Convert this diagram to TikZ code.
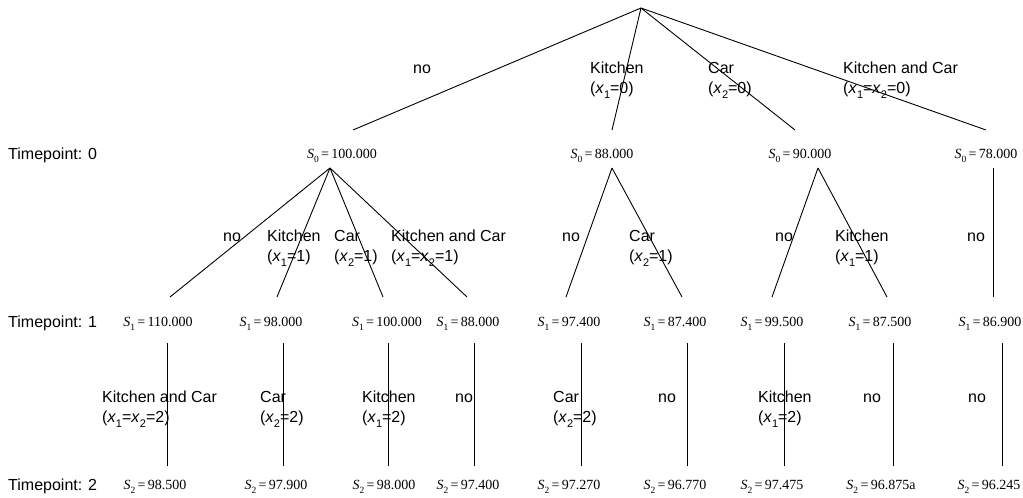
\documentclass[tikz,border=0pt]{standalone}
\usepackage{fontspec}
\setmainfont{Liberation Sans}
\newfontfamily\serifnum{Liberation Serif}
\newcommand{\SVal}[2]{\textit{S}\raisebox{-0.25em}{\fontsize{9.5}{9.5}\selectfont #1}\,=\,#2}
\newcommand{\xsub}[1]{\textit{x}\raisebox{-0.3em}{\fontsize{11}{11}\selectfont #1}}
\begin{document}
\begin{tikzpicture}[x=1pt,y=-1pt,
  edge/.style={line width=0.9pt},
  lab/.style={anchor=base west, inner sep=0pt, align=left, font=\fontsize{16}{20.5}\selectfont},
  val/.style={anchor=base, inner sep=0pt, font=\fontsize{14}{16}\serifnum},
  tp/.style={anchor=base west, inner sep=0pt, font=\fontsize{16}{20}\selectfont}]
\useasboundingbox (0,0) rectangle (1023,498);

% timepoints
\node[tp] (tp0) at (8,159.5) {Timepoint: 0};
\node[tp] (tp1) at (8,327.5) {Timepoint: 1};
\node[tp] (tp2) at (8,490.5) {Timepoint: 2};

% values level 0
\node[val] (v0a) at (342,158.5) {\SVal{0}{100.000}};
\node[val] (v0b) at (602,158.5) {\SVal{0}{88.000}};
\node[val] (v0c) at (800,158.5) {\SVal{0}{90.000}};
\node[val] (v0d) at (986,158.5) {\SVal{0}{78.000}};
% values level 1
\node[val] (v1a) at (158,326.5) {\SVal{1}{110.000}};
\node[val] (v1b) at (271,326.5) {\SVal{1}{98.000}};
\node[val] (v1c) at (387,326.5) {\SVal{1}{100.000}};
\node[val] (v1d) at (468,326.5) {\SVal{1}{88.000}};
\node[val] (v1e) at (569,326.5) {\SVal{1}{97.400}};
\node[val] (v1f) at (675,326.5) {\SVal{1}{87.400}};
\node[val] (v1g) at (772,326.5) {\SVal{1}{99.500}};
\node[val] (v1h) at (880,326.5) {\SVal{1}{87.500}};
\node[val] (v1i) at (990,326.5) {\SVal{1}{86.900}};
% values level 2
\node[val] (v2a) at (155,489.5) {\SVal{2}{98.500}};
\node[val] (v2b) at (276,489.5) {\SVal{2}{97.900}};
\node[val] (v2c) at (384,489.5) {\SVal{2}{98.000}};
\node[val] (v2d) at (468,489.5) {\SVal{2}{97.400}};
\node[val] (v2e) at (569,489.5) {\SVal{2}{97.270}};
\node[val] (v2f) at (675,489.5) {\SVal{2}{96.770}};
\node[val] (v2g) at (772,489.5) {\SVal{2}{97.475}};
\node[val] (v2h) at (881,489.5) {\SVal{2}{96.875a}};
\node[val] (v2i) at (989,489.5) {\SVal{2}{96.245}};

% connector end points
\coordinate (r) at (641,8);
\coordinate (e0a) at (353,130);
\coordinate (e0b) at (612,130);
\coordinate (e0c) at (795,130);
\coordinate (e0d) at (986,130);
\coordinate (t1a) at (330,168);
\coordinate (t1b) at (612,168);
\coordinate (t1c) at (818,168);
\coordinate (t1d) at (993,168);
\coordinate (u1) at (170,297);
\coordinate (u2) at (277,297);
\coordinate (u3) at (383,297);
\coordinate (u4) at (467,297);
\coordinate (u5) at (566,297);
\coordinate (u6) at (682,297);
\coordinate (u7) at (772,297);
\coordinate (u8) at (887,297);
\coordinate (u9) at (993,297);
\foreach \n/\x in {a/167,b/283,c/388,d/474,e/581,f/687,g/784,h/893,i/1002}{
  \coordinate (s\n) at (\x,343);
  \coordinate (f\n) at (\x,466);
}

% connectors
\draw[edge] (r) -- (e0a);
\draw[edge] (r) -- (e0b);
\draw[edge] (r) -- (e0c);
\draw[edge] (r) -- (e0d);
\draw[edge] (t1a) -- (u1);
\draw[edge] (t1a) -- (u2);
\draw[edge] (t1a) -- (u3);
\draw[edge] (t1a) -- (u4);
\draw[edge] (t1b) -- (u5);
\draw[edge] (t1b) -- (u6);
\draw[edge] (t1c) -- (u7);
\draw[edge] (t1c) -- (u8);
\draw[edge] (t1d) -- (u9);
\foreach \n in {a,b,c,d,e,f,g,h,i}{
  \draw[edge] (s\n) -- (f\n);
}

% labels level 0
\node[lab] (l0a) at (413,73) {no};
\node[lab] (l0b) at (590,93.5) {Kitchen\\(\xsub{1}=0)};
\node[lab] (l0c) at (708,93.5) {Car\\(\xsub{2}=0)};
\node[lab] (l0d) at (843,93.5) {Kitchen and Car\\(\xsub{1}=\xsub{2}=0)};
% labels level 1
\node[lab] (l1a) at (223,241) {no};
\node[lab] (l1b) at (267,261.5) {Kitchen\\(\xsub{1}=1)};
\node[lab] (l1c) at (334,261.5) {Car\\(\xsub{2}=1)};
\node[lab] (l1d) at (391,261.5) {Kitchen and Car\\(\xsub{1}=\xsub{2}=1)};
\node[lab] (l1e) at (562,241) {no};
\node[lab] (l1f) at (629,261.5) {Car\\(\xsub{2}=1)};
\node[lab] (l1g) at (775,241) {no};
\node[lab] (l1h) at (835,261.5) {Kitchen\\(\xsub{1}=1)};
\node[lab] (l1i) at (967,241) {no};
% labels level 2
\node[lab] (l2a) at (102,422.5) {Kitchen and Car\\(\xsub{1}=\xsub{2}=2)};
\node[lab] (l2b) at (260,422.5) {Car\\(\xsub{2}=2)};
\node[lab] (l2c) at (362,422.5) {Kitchen\\(\xsub{1}=2)};
\node[lab] (l2d) at (455,402) {no};
\node[lab] (l2e) at (553,422.5) {Car\\(\xsub{2}=2)};
\node[lab] (l2f) at (658,402) {no};
\node[lab] (l2g) at (758,422.5) {Kitchen\\(\xsub{1}=2)};
\node[lab] (l2h) at (863,402) {no};
\node[lab] (l2i) at (968,402) {no};
\end{tikzpicture}
\end{document}
